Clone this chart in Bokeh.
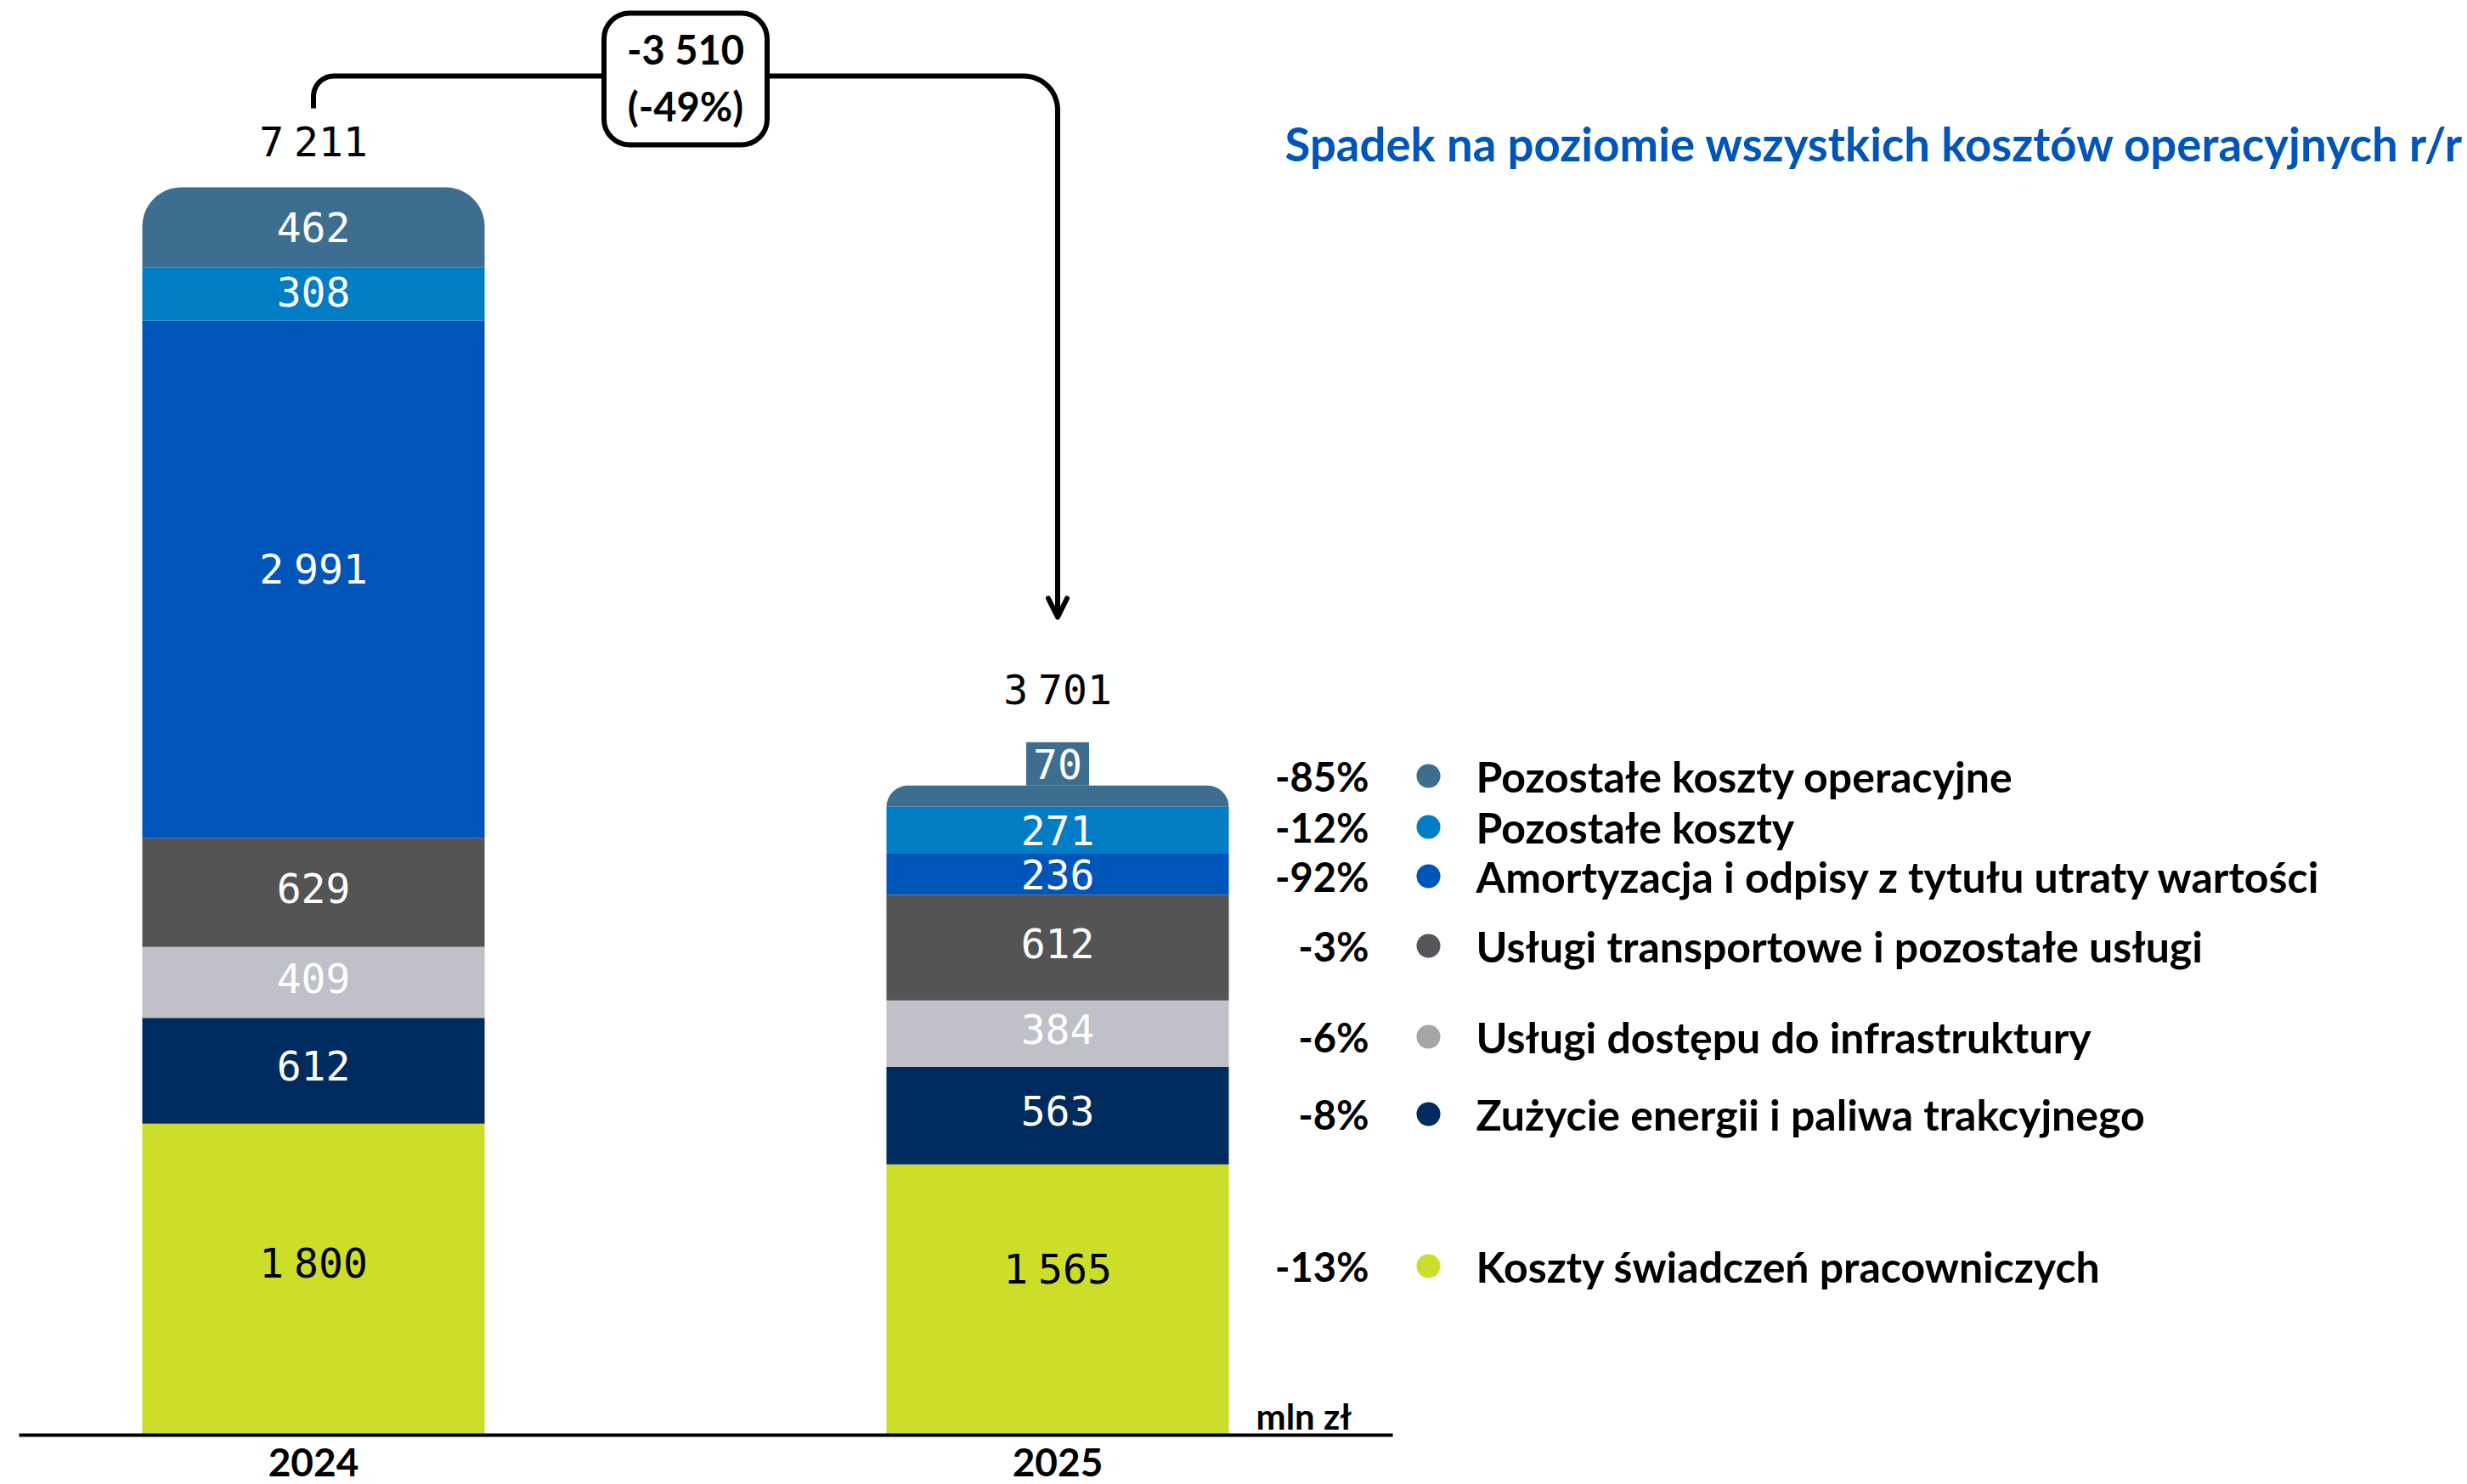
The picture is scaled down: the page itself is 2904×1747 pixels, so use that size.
import numpy as np
from bokeh.plotting import figure
from bokeh.models import Range1d, FixedTicker, Arrow, OpenHead
from bokeh.core.properties import value
from bokeh.embed import file_html
from bokeh.resources import INLINE

# ---------------- data ----------------
years = ["2024", "2025"]
categories = [
    "Koszty świadczeń pracowniczych",
    "Zużycie energii i paliwa trakcyjnego",
    "Usługi dostępu do infrastruktury",
    "Usługi transportowe i pozostałe usługi",
    "Amortyzacja i odpisy z  tytułu utraty wartości",
    "Pozostałe koszty",
    "Pozostałe koszty operacyjne",
]
values_2024 = [1800, 612, 409, 629, 2991, 308, 462]
values_2025 = [1565, 563, 384, 612, 236, 271, 70]
changes = ["-13%", "-8%", "-6%", "-3%", "-92%", "-12%", "-85%"]
totals = [7211, 3701]
change_abs = "-3 510"
change_pct = "(-49%)"
unit_label = "mln zł"
title_text = "Spadek na poziomie wszystkich kosztów operacyjnych r/r"

# ---------------- styles ----------------
bar_colors = ["#CCDD2A", "#002B5E", "#BFC0C8", "#545454", "#0055B8", "#007DC5", "#3D6E8F"]
dot_colors = ["#CCDD2A", "#002B5E", "#A6A6A6", "#54565A", "#0055B8", "#007DC5", "#3D6E8F"]
label_colors = ["black", "white", "white", "white", "white", "white", "white"]
NUM_NAME = "DejaVu Sans Mono"
NUM_FONT = value(NUM_NAME)
NUM_SIZE = 48
GAP = 12                        # thousands gap, px
TXT_NAME = "Lato"
TXT_FONT = value(TXT_NAME)

W, H = 2904, 1747
BASE_PX = 1689            # page y of the baseline
PX_PER_CAT = 876.0
CAT0_PX = 368.5           # page x of first category
PX_PER_UNIT = 0.2037
BAR_W = 403 / PX_PER_CAT
MIN_CAP_PX = 25           # minimum drawn height of a rounded top cap

# per-segment vertical nudges of value labels (screen px, negative = up)
label_shift = [[-20, -6, -5, -5, -13, -3, 0],
               [-37, -6, -5, -5, 0, 0, 0]]
total_offsets = [-54, -113]
top_radius = [46, 30]


def fx(px):
    return (px - CAT0_PX) / PX_PER_CAT


def fy(py):
    return (BASE_PX - py) / PX_PER_UNIT


def number(x, y, v, color, y_off=0, size=NUM_SIZE):
    """Draw a number with a narrow thousands gap, centred on (x, y)."""
    s = str(v)
    if len(s) <= 3:
        p.text(x=[x], y=[y], y_offset=y_off, text=[s], text_align="center",
               text_baseline="middle", text_font=NUM_FONT,
               text_font_size=f"{size}px", text_color=color)
        return
    head, tail = s[:-3], s[-3:]
    cw = 0.602 * size
    wt = len(s) * cw + GAP
    split = -wt / 2 + len(head) * cw
    p.text(x=[x], y=[y], x_offset=split, y_offset=y_off, text=[head],
           text_align="right", text_baseline="middle", text_font=NUM_FONT,
           text_font_size=f"{size}px", text_color=color)
    p.text(x=[x], y=[y], x_offset=split + GAP, y_offset=y_off, text=[tail],
           text_align="left", text_baseline="middle", text_font=NUM_FONT,
           text_font_size=f"{size}px", text_color=color)


p = figure(width=W, height=H, output_backend="svg", toolbar_location=None,
           x_range=Range1d(fx(0), fx(W)),
           y_range=Range1d(0, fy(0)),
           y_axis_location=None,
           min_border_left=0, min_border_right=0, min_border_top=0,
           min_border_bottom=H - BASE_PX)
p.outline_line_color = None
p.xgrid.visible = False
p.ygrid.visible = False

# ---------------- axis ----------------
ax = p.xaxis[0]
ax.ticker = FixedTicker(ticks=list(range(len(years))))
ax.major_label_overrides = {i: y for i, y in enumerate(years)}
ax.major_label_text_font = TXT_NAME
ax.major_label_text_font_style = "bold"
ax.major_label_text_font_size = "46px"
ax.major_label_text_color = "black"
ax.major_label_standoff = 15
ax.major_tick_out = 0
ax.major_tick_in = 0
ax.minor_tick_out = 0
ax.minor_tick_in = 0
ax.major_tick_line_color = None
ax.minor_tick_line_color = None
ax.axis_line_color = "black"
ax.axis_line_width = 4
ax.bounds = (fx(22), fx(1639))

# ---------------- bars ----------------
series = [values_2024, values_2025]
for i, vals in enumerate(series):
    tops = np.cumsum(vals)
    bottoms = tops - np.array(vals)
    n = len(vals)
    p.vbar(x=[i] * (n - 1), bottom=bottoms[:-1], top=tops[:-1], width=BAR_W,
           fill_color=bar_colors[:-1], line_color=None)
    cap_top = max(tops[-1], bottoms[-1] + MIN_CAP_PX / PX_PER_UNIT)
    p.vbar(x=[i], bottom=[bottoms[-1]], top=[cap_top], width=BAR_W,
           fill_color=bar_colors[-1], line_color=None,
           border_radius=(top_radius[i], top_radius[i], 0, 0))
    for k in range(n):
        seg_px = vals[k] * PX_PER_UNIT
        if seg_px < 30:
            # too thin: label sits in a small tab on top of the bar
            bw_px, bh_px = 74, 51
            b0 = cap_top
            p.quad(left=[i - bw_px / 2 / PX_PER_CAT], right=[i + bw_px / 2 / PX_PER_CAT],
                   bottom=[b0], top=[b0 + bh_px / PX_PER_UNIT],
                   fill_color=bar_colors[k], line_color=None)
            number(i, b0 + bh_px / 2 / PX_PER_UNIT, vals[k], "white")
        else:
            number(i, bottoms[k] + vals[k] / 2, vals[k], label_colors[k],
                   y_off=label_shift[i][k])
    number(i, cap_top, totals[i], "black", y_off=total_offsets[i])

# ---------------- connector ----------------
xL = CAT0_PX
xR = CAT0_PX + PX_PER_CAT
yH = 89
r1, r2 = 24, 40
pts = [(xL, 127), (xL, yH + r1)]
for t in np.linspace(np.pi, np.pi / 2, 16):
    pts.append((xL + r1 + r1 * np.cos(t), yH + r1 - r1 * np.sin(t)))
for t in np.linspace(np.pi / 2, 0, 16):
    pts.append((xR - r2 + r2 * np.cos(t), yH + r2 - r2 * np.sin(t)))
pts.append((xR, 724))
p.line([fx(a) for a, b in pts], [fy(b) for a, b in pts], line_width=6,
       line_color="black", line_join="round")
p.add_layout(Arrow(end=OpenHead(size=22, line_width=6, line_color="black",
                                line_join="round", line_cap="round"),
                   x_start=fx(xR), y_start=fy(700), x_end=fx(xR), y_end=fy(726),
                   line_width=6, line_color="black"))

bx = 0.5
bw = 192 / PX_PER_CAT
p.quad(left=[bx - bw / 2], right=[bx + bw / 2], top=[fy(15)], bottom=[fy(170)],
       fill_color="white", line_color="black", line_width=6, border_radius=30)
p.text(x=[bx, bx], y=[fy(57), fy(124)], text=[change_abs, change_pct],
       text_align="center", text_baseline="middle", text_font=TXT_FONT,
       text_font_style="bold", text_font_size="47px", text_color="black")

# ---------------- title ----------------
p.text(x=[fx(1512)], y=[fy(168)], text=[title_text], text_align="left",
       text_baseline="middle", text_font=TXT_FONT, text_font_style="bold",
       text_font_size="54.5px", text_color="#0055B8")

# ---------------- legend ----------------
legend_y = [1490, 1311, 1220, 1113, 1031, 973, 913]
p.text(x=[fx(1611)] * len(changes), y=[fy(v) for v in legend_y], text=changes,
       text_align="right", text_baseline="middle", text_font=TXT_FONT,
       text_font_style="bold", text_font_size="47px", text_color="black")
p.scatter(x=[fx(1681)] * len(changes), y=[fy(v) for v in legend_y], size=28,
          marker="circle", fill_color=dot_colors, line_color=None)
p.text(x=[fx(1737)] * len(categories), y=[fy(v) for v in legend_y], text=categories,
       text_align="left", text_baseline="middle", text_font=TXT_FONT,
       text_font_style="bold", text_font_size="50px", text_color="black")

p.text(x=[fx(1478)], y=[fy(1666)], text=[unit_label], text_align="left",
       text_baseline="middle", text_font=TXT_FONT, text_font_style="bold",
       text_font_size="42px", text_color="black")

open("out.html", "w").write(file_html(p, INLINE))
